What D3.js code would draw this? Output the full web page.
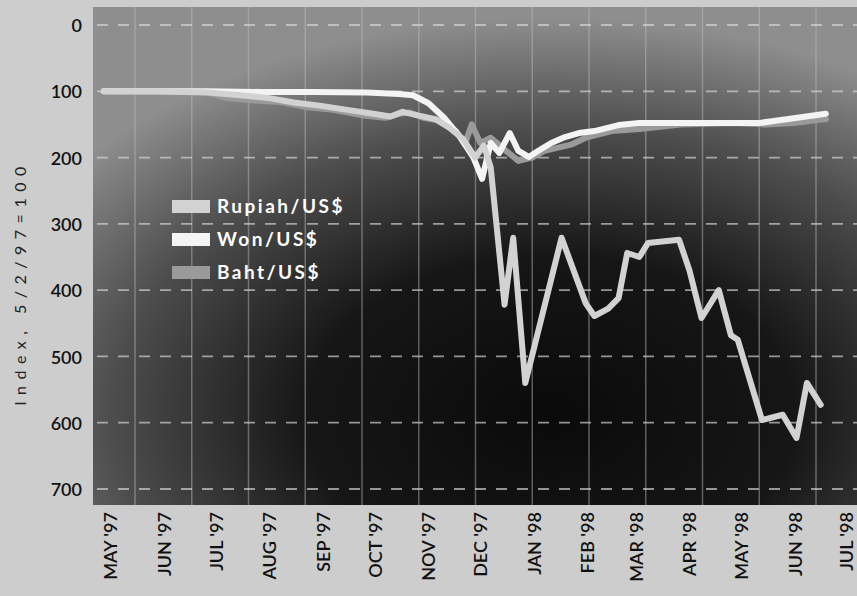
<!DOCTYPE html>
<html>
<head>
<meta charset="utf-8">
<script src="https://cdn.jsdelivr.net/npm/d3@7"></script>
<style>
  body { margin: 0; background: #cdcdcd; }
  svg { display: block; font-family: Lato, 'Open Sans', sans-serif; }
</style>
</head>
<body>
<div class="chart"></div>
<script>
const width = 857, height = 596

// month labels along the bottom
const monthLabels = ["MAY '97", "JUN '97", "JUL '97", "AUG '97", "SEP '97", "OCT '97", "NOV '97", "DEC '97",
    "JAN '98", "FEB '98", "MAR '98", "APR '98", "MAY '98", "JUN '98", "JUL '98"]
const yTicks = [0, 100, 200, 300, 400, 500, 600, 700]

// index values, 5/2/97 = 100
const rupiah = [
    ['1997-05-02', 100], ['1997-06-01', 100], ['1997-07-01', 102], ['1997-07-20', 106], ['1997-08-05', 110],
    ['1997-08-20', 117], ['1997-09-05', 122], ['1997-09-20', 128], ['1997-10-05', 134], ['1997-10-15', 138],
    ['1997-10-22', 131], ['1997-11-01', 137], ['1997-11-10', 142], ['1997-11-18', 155], ['1997-11-26', 172],
    ['1997-12-03', 200], ['1997-12-08', 182], ['1997-12-12', 215], ['1997-12-20', 422], ['1997-12-25', 321],
    ['1998-01-01', 540], ['1998-01-22', 321], ['1998-02-05', 420], ['1998-02-10', 439], ['1998-02-18', 428],
    ['1998-02-24', 412], ['1998-03-01', 344], ['1998-03-08', 350], ['1998-03-13', 329], ['1998-03-31', 324],
    ['1998-04-06', 370], ['1998-04-13', 442], ['1998-04-23', 400], ['1998-04-30', 468], ['1998-05-04', 475],
    ['1998-05-18', 596], ['1998-05-30', 588], ['1998-06-07', 623], ['1998-06-13', 540], ['1998-06-21', 573]
]
const won = [
    ['1997-05-02', 100], ['1997-06-01', 100], ['1997-07-01', 100], ['1997-08-01', 101], ['1997-09-01', 101],
    ['1997-10-01', 102], ['1997-10-20', 104], ['1997-10-28', 106], ['1997-11-06', 118], ['1997-11-15', 140],
    ['1997-11-24', 168], ['1997-12-02', 200], ['1997-12-07', 232], ['1997-12-12', 178], ['1997-12-17', 193],
    ['1997-12-23', 163], ['1997-12-28', 190], ['1998-01-03', 199], ['1998-01-09', 189], ['1998-01-16', 178],
    ['1998-01-24', 169], ['1998-02-01', 163], ['1998-02-10', 160], ['1998-02-24', 151], ['1998-03-08', 148],
    ['1998-04-11', 148], ['1998-05-16', 148], ['1998-05-30', 143], ['1998-06-24', 134]
]
const baht = [
    ['1997-05-02', 100], ['1997-06-01', 101], ['1997-07-01', 102], ['1997-07-12', 110], ['1997-07-28', 114],
    ['1997-08-12', 116], ['1997-08-28', 124], ['1997-09-12', 128], ['1997-09-28', 136], ['1997-10-12', 140],
    ['1997-10-20', 134], ['1997-10-26', 132], ['1997-11-03', 140], ['1997-11-12', 144], ['1997-11-22', 160],
    ['1997-11-27', 180], ['1997-12-01', 150], ['1997-12-06', 178], ['1997-12-12', 170], ['1997-12-20', 188],
    ['1997-12-28', 205], ['1998-01-05', 200], ['1998-01-12', 190], ['1998-01-20', 185], ['1998-01-28', 180],
    ['1998-02-05', 170], ['1998-02-20', 160], ['1998-03-08', 157], ['1998-04-01', 150], ['1998-05-01', 148],
    ['1998-05-20', 150], ['1998-06-05', 148], ['1998-06-24', 142]
]

const seriesNames = ['Rupiah/US$', 'Won/US$', 'Baht/US$']
const seriesColors = ['#d2d2d2', '#f4f4f4', '#9a9a9a']

const parse = d3.timeParse('%Y-%m-%d')

const svg = d3.select('.chart').append('svg')
    .attr('width', width)
    .attr('height', height)

const plot = { left: 93, right: 857, top: 7, bottom: 505 }

const x = d3.scaleTime()
    .domain([new Date(1997, 4, 1), new Date(1998, 6, 1)])
    .range([102, 838])

const y = d3.scaleLinear()
    .domain([0, 700])
    .range([25, 489])

// dark photographic backdrop
const defs = svg.append('defs')
const grad = defs.append('radialGradient').attr('id', 'bg')
    .attr('cx', '60%').attr('cy', '82%').attr('r', '80%')
grad.append('stop').attr('offset', '0%').attr('stop-color', '#0a0a0a')
grad.append('stop').attr('offset', '40%').attr('stop-color', '#161616')
grad.append('stop').attr('offset', '72%').attr('stop-color', '#4d4d4d')
grad.append('stop').attr('offset', '100%').attr('stop-color', '#8e8e8e')

svg.append('rect')
    .attr('x', plot.left)
    .attr('y', plot.top)
    .attr('width', plot.right - plot.left)
    .attr('height', plot.bottom - plot.top)
    .style('fill', 'url(#bg)')

// decorative vertical rules of the backdrop
const rule = d3.scaleLinear().domain([0, 12]).range([135, 816])
svg.append('g').attr('class', 'rules')
    .selectAll('line')
    .data(d3.range(13))
    .enter().append('line')
    .attr('x1', d => rule(d))
    .attr('x2', d => rule(d))
    .attr('y1', plot.top)
    .attr('y2', plot.bottom)
    .style('stroke', '#bdbdbd')
    .style('stroke-width', 1.5)
    .style('opacity', 0.45)

// dashed horizontal grid
svg.append('g').attr('class', 'grid')
    .selectAll('line')
    .data(yTicks)
    .enter().append('line')
    .attr('x1', plot.left + 4)
    .attr('x2', plot.right)
    .attr('y1', d => y(d))
    .attr('y2', d => y(d))
    .style('stroke', '#dcdcdc')
    .style('stroke-width', 1.8)
    .style('stroke-dasharray', '11,10')
    .style('opacity', 0.65)

// y axis labels
svg.append('g').attr('class', 'y-labels')
    .selectAll('text')
    .data(yTicks)
    .enter().append('text')
    .attr('x', 82)
    .attr('y', d => y(d))
    .attr('dy', '0.4em')
    .style('text-anchor', 'end')
    .style('font-size', '18px')
    .style('font-weight', 600)
    .style('fill', '#111')
    .text(d => d)

svg.append('text')
    .attr('transform', 'translate(26,283) rotate(-90)')
    .style('text-anchor', 'middle')
    .style('font-size', '16px')
    .style('letter-spacing', '6.5px')
    .style('fill', '#222')
    .text('Index, 5/2/97=100')

// x axis labels, one per month
const months = d3.timeMonth.range(new Date(1997, 4, 1), new Date(1998, 7, 1))
svg.append('g').attr('class', 'x-labels')
    .selectAll('text')
    .data(months)
    .enter().append('text')
    .attr('transform', d => 'translate(' + (x(d) + 9) + ',512) rotate(-90)')
    .attr('dy', '0.36em')
    .style('text-anchor', 'end')
    .style('font-size', '18px')
    .style('font-weight', 600)
    .style('fill', '#111')
    .text((d, i) => monthLabels[i])

// the three currency lines
const line = d3.line()
    .x(d => x(parse(d[0])))
    .y(d => y(d[1]))

const drawOrder = [[baht, 2], [won, 1], [rupiah, 0]]
svg.append('g').attr('class', 'series')
    .selectAll('path')
    .data(drawOrder)
    .enter().append('path')
    .attr('d', d => line(d[0]))
    .style('fill', 'none')
    .style('stroke', d => seriesColors[d[1]])
    .style('stroke-width', 6)
    .style('stroke-linejoin', 'round')
    .style('stroke-linecap', 'round')

// legend
const legend = svg.append('g').attr('class', 'legend')
    .selectAll('g')
    .data(seriesNames)
    .enter().append('g')
    .attr('transform', (d, i) => 'translate(172,' + (200 + i * 33) + ')')
legend.append('rect')
    .attr('width', 38)
    .attr('height', 13)
    .style('fill', (d, i) => seriesColors[i])
legend.append('text')
    .attr('x', 45)
    .attr('y', 13)
    .style('font-size', '19px')
    .style('font-weight', 700)
    .style('letter-spacing', '2.5px')
    .style('fill', '#fff')
    .text(d => d)
</script>
</body>
</html>
